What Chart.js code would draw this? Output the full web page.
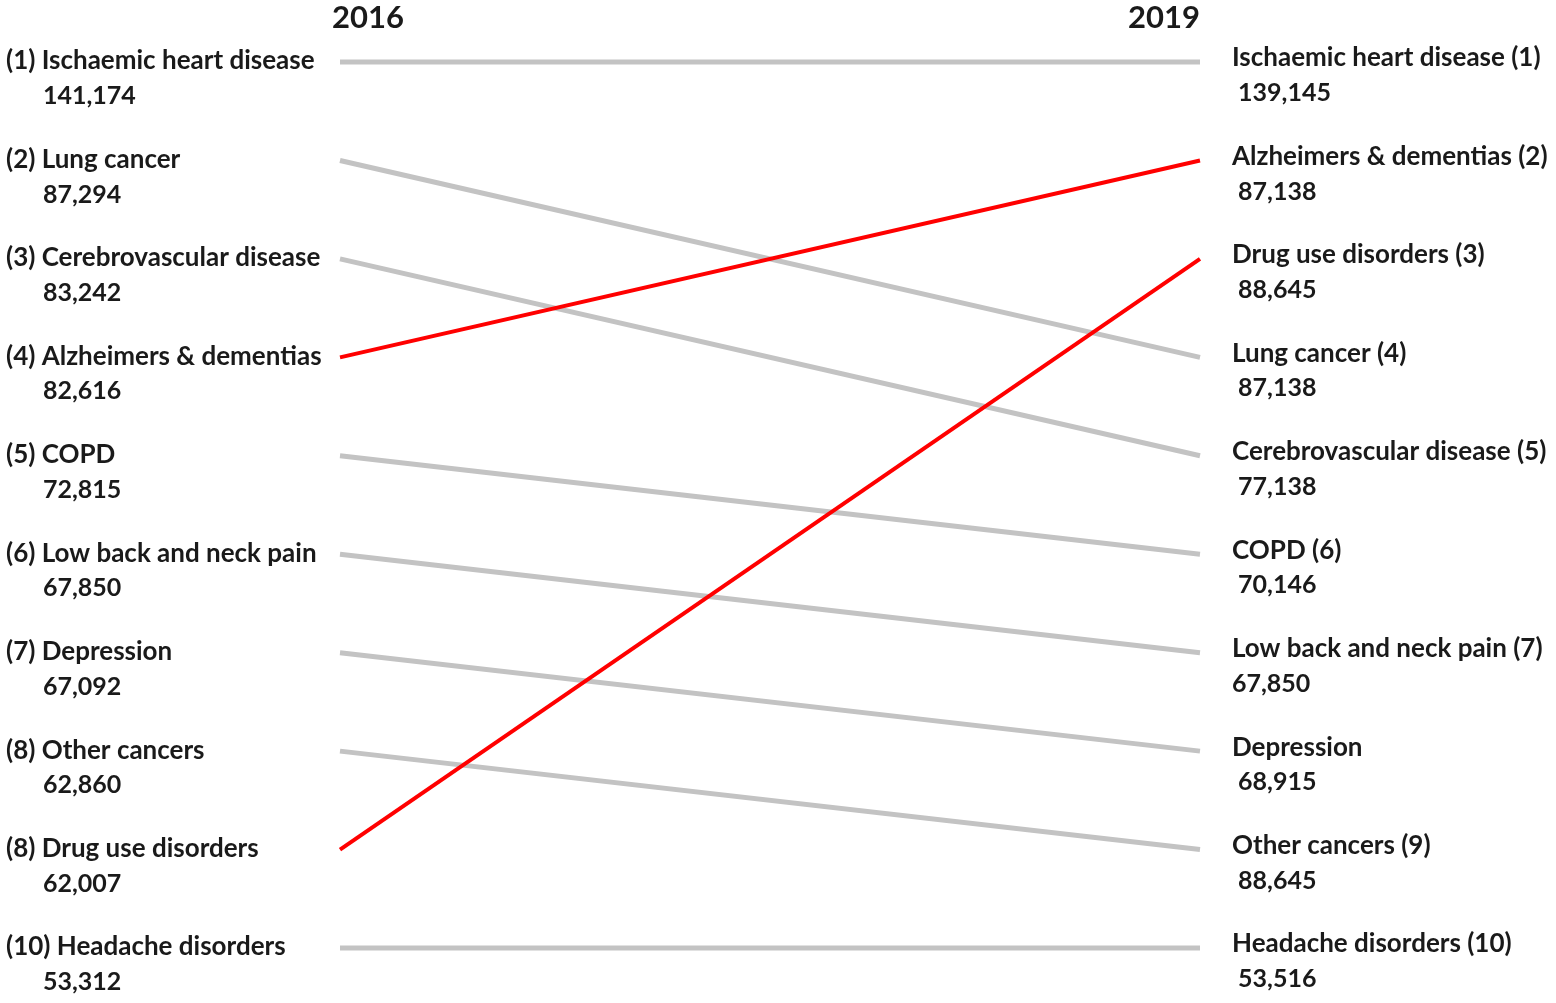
<!DOCTYPE html>
<html>
<head>
<meta charset="utf-8">
<script src="https://cdn.jsdelivr.net/npm/chart.js@4"></script>
<style>
  html, body { margin: 0; padding: 0; background: #fff; }
  #wrap { width: 1556px; height: 1003px; }
</style>
</head>
<body>
<div id="wrap"><canvas id="myChart" width="1556" height="1003"></canvas></div>
<script>
const years = ['2016', '2019'];
const rank2016 = [1, 2, 3, 4, 5, 6, 7, 8, 9, 10];
const rank2019 = [1, 4, 5, 2, 6, 7, 8, 9, 3, 10];
const highlighted = [false, false, false, true, false, false, false, false, true, false];

const leftNames = ['(1) Ischaemic heart disease', '(2) Lung cancer', '(3) Cerebrovascular disease',
    '(4) Alzheimers & dementias', '(5) COPD', '(6) Low back and neck pain', '(7) Depression',
    '(8) Other cancers', '(8) Drug use disorders', '(10) Headache disorders'];
const leftValues = ['141,174', '87,294', '83,242', '82,616', '72,815', '67,850', '67,092',
    '62,860', '62,007', '53,312'];

// right side, listed top to bottom (rank 1..10)
const rightNames = ['Ischaemic heart disease (1)', 'Alzheimers & dementias (2)', 'Drug use disorders (3)',
    'Lung cancer (4)', 'Cerebrovascular disease (5)', 'COPD (6)', 'Low back and neck pain (7)',
    'Depression', 'Other cancers (9)', 'Headache disorders (10)'];
const rightValues = [' 139,145', ' 87,138', ' 88,645', ' 87,138', ' 77,138', ' 70,146', '67,850',
    ' 68,915', ' 88,645', ' 53,516'];

const FONT = '"Lato", "Open Sans", sans-serif';

const datasets = rank2016.map((r, i) => ({
    data: [{ x: 0, y: r }, { x: 1, y: rank2019[i] }],
    borderColor: highlighted[i] ? '#ff0000' : '#c3c3c3',
    borderWidth: highlighted[i] ? 4 : 5,
    borderCapStyle: 'butt',
    pointRadius: 0,
    tension: 0,
    clip: false,
    order: highlighted[i] ? 0 : 1
}));

const labelPlugin = {
    id: 'slopeLabels',
    afterDraw(chart) {
        const { ctx, scales: { x, y } } = chart;
        ctx.save();
        ctx.fillStyle = '#1a1a1a';
        ctx.textBaseline = 'middle';

        ctx.font = 'bold 31px ' + FONT;
        ctx.textAlign = 'right';
        ctx.fillText(years[0], x.getPixelForValue(0) + 64, 18);
        ctx.fillText(years[1], x.getPixelForValue(1), 18);

        ctx.textAlign = 'left';
        rank2016.forEach((r, i) => {
            const py = y.getPixelForValue(r);
            ctx.font = 'bold 26px ' + FONT;
            ctx.fillText(leftNames[i], 6, py - 1);
            ctx.font = 'bold 25px ' + FONT;
            ctx.fillText(leftValues[i], 43, py + 34);
        });
        rightNames.forEach((name, i) => {
            const py = y.getPixelForValue(i + 1);
            ctx.font = 'bold 26px ' + FONT;
            ctx.fillText(name, 1232, py - 4);
            ctx.font = 'bold 25px ' + FONT;
            ctx.fillText(rightValues[i], 1232, py + 31);
        });
        ctx.restore();
    }
};

new Chart(document.getElementById('myChart').getContext('2d'), {
    type: 'line',
    data: { datasets: datasets },
    options: {
        responsive: false,
        animation: false,
        layout: { padding: { left: 340, right: 356, top: 62, bottom: 55 } },
        plugins: { legend: { display: false }, tooltip: { enabled: false } },
        scales: {
            x: { type: 'linear', min: 0, max: 1, display: false },
            y: { type: 'linear', min: 1, max: 10, reverse: true, display: false }
        }
    },
    plugins: [labelPlugin]
});
</script>
</body>
</html>
